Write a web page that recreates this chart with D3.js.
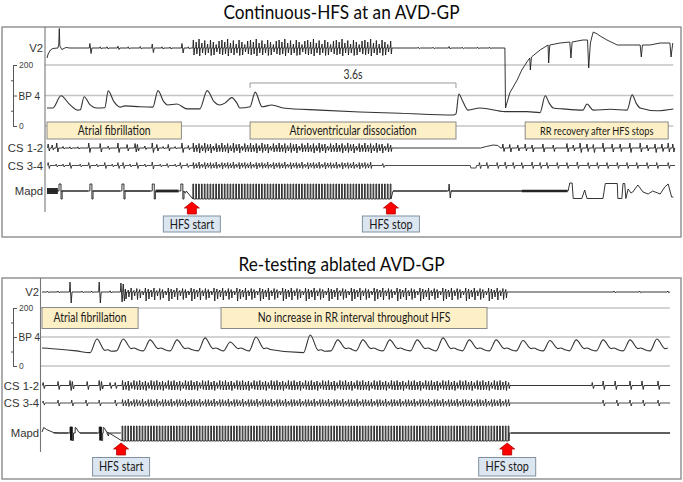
<!DOCTYPE html>
<html><head><meta charset="utf-8">
<script src="https://cdn.jsdelivr.net/npm/d3@7"></script>
<style>body{margin:0;background:#fff;}svg{display:block;}</style>
</head><body>
<svg id="c" width="683" height="482"></svg>
<script>
// ================= DATA =================
const titles = ["Continuous-HFS at an AVD-GP", "Re-testing ablated AVD-GP"];
const channelNames = ["V2", "BP 4", "CS 1-2", "CS 3-4", "Mapd"];
const bpGridValues = [0, 100, 200];
const bpMinorTicks = [50, 150];
const bpTickLabels = [[200, "200"], [0, "0"]];
const timeDomain = [0, 11];          // seconds
const hfsPeriod = 0.05;              // 20 Hz stimulation
const hfsLabels = ["HFS start", "HFS stop"];

// ---- Panel 1 : continuous HFS ----
const p1Hfs = [2.55, 6.03];
const p1Cs34HfsStop = 5.67;
const p1Interval = [3.55, 7.15];
const p1IntervalLabel = "3.6s";
const p1Boxes = [[0.0, 2.35, "Atrial fibrillation"], [3.55, 7.15, "Atrioventricular dissociation"], [8.36, 10.86, "RR recovery after HFS stops"]];
const p1BP = [[0,59],[0.10,59],[0.245,99],[0.40,70],[0.54,52],[0.58,53],[0.65,96],[0.75,70],[0.87,59],[1.01,60],[1.07,115],[1.17,80],[1.28,62],[1.36,66],[1.63,63],[1.85,62],[1.94,116],[2.04,80],[2.11,69],[2.27,72],[2.45,56],[2.67,56],[2.80,116],[2.92,80],[3.02,69],[3.11,75],[3.23,93],[3.32,75],[3.37,59],[3.55,63],[3.64,111],[3.76,63],[3.93,69],[4.13,59],[4.77,52],[5.47,46],[6.17,42],[7.10,36],[7.15,40],[7.20,105],[7.27,80],[7.36,52],[7.57,59],[8.01,47],[8.39,47],[8.62,44],[8.71,99],[8.78,75],[8.85,59],[9.02,56],[9.37,52],[9.44,72],[9.55,52],[9.85,55],[10.14,52],[10.23,102],[10.30,75],[10.37,59],[10.66,50],[10.95,56]];
const p1V2Start = [[0,-1.0],[0.02,-0.6],[0.06,-0.2],[0.1,-0.05],[0.19,0],[0.205,0.3],[0.215,1.95],[0.225,0.2],[0.26,-0.15],[0.33,0.05],[0.4,0]];
const p1V2Spikes = [[0.75,0.45,0.55],[0.93,0.12,0.1],[1.05,0.12,0.1],[1.24,0.18,0.15],[1.42,0.12,0.1],[1.63,0.15,0.1],[1.84,0.4,0.45],[2.01,0.12,0.1],[2.15,0.1,0.1],[2.36,0.45,0.5],[2.47,0.12,0.1],[6.49,0.08,0.08],[6.75,0.08,0.08],[7.03,0.15,0.1],[7.26,0.08,0.08],[7.53,0.08,0.08],[7.74,0.08,0.08]];
const p1V2HfsAmp = [[0.8,0.7],[0.6,0.6],[0.9,0.8],[0.5,0.5],[0.75,0.7],[0.4,0.5],[0.8,0.75],[0.6,0.7],[0.35,0.4],[0.7,0.6]];
const p1V2Recovery = [[8.005,0],[8.016,-6.0],[8.09,-4.5],[8.22,-3.2],[8.30,-2.2],[8.39,-1.4],[8.44,-1.0],[8.45,-2.2],[8.47,-0.9],[8.62,-0.2],[8.76,0.3],[8.77,-1.5],[8.79,0.3],[8.97,0.5],[9.14,0.6],[9.16,-1.0],[9.18,0.6],[9.37,0.8],[9.45,0.8],[9.47,-2.0],[9.50,0.5],[9.53,1.2],[9.55,1.6],[9.62,1.4],[9.67,1.2],[9.79,0.8],[9.97,0.3],[10.19,0.3],[10.37,0.3],[10.39,-0.9],[10.41,0.3],[10.54,0.3],[10.72,0.5],[10.89,0.5],[10.91,-0.9],[10.94,0.5]];
const p1Cs12Spikes = [[0.02,0.4,0.3],[0.09,0.3,0.2],[0.17,0.5,0.4],[0.28,0.15,0.1],[0.40,0.12,0.1],[0.54,0.12,0.1],[0.73,0.5,0.45],[0.93,0.45,0.4],[1.07,0.2,0.15],[1.24,0.5,0.45],[1.40,0.35,0.3],[1.54,0.45,0.4],[1.58,0.35,0.3],[1.71,0.2,0.15],[1.84,0.5,0.45],[1.92,0.35,0.3],[2.03,0.15,0.1],[2.12,0.35,0.3],[2.24,0.15,0.1],[2.36,0.5,0.45],[2.47,0.25,0.2],
  [7.97,0.4,0.35],[8.09,0.35,0.4],[8.23,0.3,0.3],[8.36,0.4,0.3],[8.48,0.3,0.4],[8.67,0.4,0.4],[8.85,0.3,0.35],[9.09,0.45,0.4],[9.20,0.3,0.3],[9.32,0.5,0.45],[9.44,0.4,0.35],[9.55,0.35,0.45],[9.72,0.5,0.4],[9.88,0.4,0.4],[10.02,0.4,0.35],[10.19,0.5,0.45],[10.37,0.5,0.4],[10.49,0.3,0.3],[10.63,0.4,0.45],[10.75,0.4,0.35],[10.86,0.5,0.4],[10.94,0.4,0.4]];
const p1Cs12Bump = [[7.58,0],[7.68,0.15],[7.8,0.3],[7.88,0.25],[7.92,0.05],[7.94,0]];
const p1Cs12HfsAmp = [[0.5,0.4],[0.3,0.35],[0.45,0.5],[0.25,0.3],[0.5,0.45],[0.35,0.3],[0.4,0.5],[0.2,0.25],[0.45,0.4],[0.3,0.35]];
const p1Cs34Spikes = [[0.02,0.3,0.3],[0.16,0.15,0.15],[0.28,0.15,0.15],[0.40,0.3,0.3],[0.58,0.15,0.15],[0.73,0.3,0.3],[0.87,0.15,0.15],[1.01,0.3,0.3],[1.14,0.15,0.15],[1.24,0.3,0.3],[1.33,0.3,0.3],[1.45,0.15,0.15],[1.57,0.3,0.3],[1.71,0.15,0.15],[1.84,0.35,0.35],[1.98,0.15,0.15],[2.10,0.2,0.2],[2.24,0.15,0.15],[2.33,0.3,0.3],[2.45,0.2,0.2],[5.87,0.2,0.2],
  [7.56,0.3,0.3],[7.69,0.3,0.3],[7.87,0.3,0.3],[8.01,0.35,0.3],[8.15,0.3,0.3],[8.30,0.3,0.3],[8.48,0.35,0.3],[8.62,0.3,0.3],[8.74,0.3,0.3],[8.92,0.3,0.3],[9.09,0.3,0.3],[9.27,0.35,0.3],[9.46,0.3,0.3],[9.62,0.3,0.3],[9.79,0.3,0.3],[9.97,0.3,0.3],[10.14,0.3,0.3],[10.31,0.3,0.3],[10.49,0.3,0.3],[10.66,0.3,0.3],[10.86,0.3,0.3]];
const p1Cs34Step = [[7.40,0],[7.41,-0.25],[7.50,-0.25],[7.51,0]];
const p1Cs34HfsAmp = [[0.3,0.3],[0.2,0.25],[0.35,0.3],[0.15,0.2],[0.3,0.35],[0.25,0.2]];
const p1MapdPulses = [0.21, 0.75, 1.31, 1.84, 2.34];
const p1MapdNoise = [[0.0,0.19,0.3],[0.24,0.72,0.04],[0.79,1.28,0.04],[1.35,1.81,0.06],[1.9,2.3,0.14],[6.05,7.0,0.03],[7.06,8.3,0.06],[8.3,9.1,0.13]];
const p1MapdSpikes = [[2.40,-0.1,0.2],[7.03,0.7,0.7]];
const p1MapdTail = [[9.11,0],[9.14,0.8],[9.18,0.8],[9.20,-0.75],[9.35,-0.75],[9.40,0.1],[9.44,-0.75],[9.72,-0.75],[9.76,0.75],[9.97,0.75],[9.98,-0.75],[10.05,-0.75],[10.07,0.75],[10.10,0.75],[10.12,-0.75],[10.16,0.2],[10.21,-0.2],[10.24,-0.1],[10.33,0.6],[10.42,-0.1],[10.51,-0.3],[10.59,0.0],[10.72,-0.3],[10.80,0.4],[10.86,0.7],[10.92,-0.6],[10.95,-0.6]];

// ---- Panel 2 : re-testing ablated GP ----
const p2Hfs = [1.40, 8.15];
const p2Boxes = [[0.0, 1.68, "Atrial fibrillation"], [3.13, 7.78, "No increase in RR interval throughout HFS"]];
const p2BPStart = [[0,62],[0.3,58],[0.6,52]];
const p2BPBeats = [[0.96,93,46],[1.42,93,52],[1.89,90,52],[2.36,90,52],[2.85,97,52],[3.29,83,52],[3.74,100,52],[4.69,107,46],[5.17,90,52],[5.61,90,52],[6.08,90,52],[6.56,90,52],[7.01,97,52],[7.47,90,52],[7.94,90,52],[8.41,88,52],[8.88,88,52],[9.34,90,52],[9.81,90,52],[10.28,90,52],[10.75,93,52]];
const p2V2Spikes = [[0.10,0.08,0.08],[0.28,0.1,0.08],[0.49,1.0,1.1],[0.70,0.1,0.08],[0.87,0.1,0.08],[1.00,1.0,1.1],[1.19,0.12,0.1],[1.38,0.9,1.0],[1.42,0.8,0.9],[10.0,0.1,0.08],[10.45,0.1,0.08],[10.94,0.1,0.08]];
const p2V2HfsAmp = [[0.3,0.7],[0.2,0.5],[0.4,0.8],[0.15,0.4],[0.35,0.75],[0.25,0.6],[0.1,0.3],[0.4,0.9]];
const p2Cs12Spikes = [[0.02,0.3,0.3],[0.28,0.4,0.4],[0.49,0.5,0.5],[0.53,0.4,0.35],[0.79,0.4,0.4],[1.00,0.5,0.5],[1.04,0.4,0.35],[1.19,0.3,0.3],[1.28,0.3,0.3],[9.62,0.3,0.3],[9.81,0.45,0.4],[10.02,0.45,0.4],[10.28,0.45,0.4],[10.49,0.45,0.4],[10.77,0.45,0.4]];
const p2Cs12HfsAmp = [[0.5,0.45],[0.35,0.4],[0.45,0.5],[0.3,0.3],[0.5,0.4],[0.4,0.45]];
const p2Cs34Spikes = [[0.02,0.2,0.2],[0.28,0.3,0.3],[0.52,0.3,0.3],[0.77,0.3,0.3],[1.00,0.3,0.3],[1.28,0.3,0.3],[9.81,0.3,0.3],[10.05,0.3,0.3],[10.28,0.3,0.3],[10.51,0.3,0.3],[10.77,0.3,0.3]];
const p2Cs34HfsAmp = [[0.35,0.3],[0.25,0.3],[0.4,0.35],[0.2,0.25],[0.35,0.35]];
const p2MapdStart = [[0,0.1],[0.03,0.55],[0.08,0.35],[0.2,0.05],[0.3,0]];
const p2MapdBlocks = [0.49, 1.00];
const p2MapdAfterPulses = [0.58, 1.07];
const p2MapdSpikes = [[1.14,-0.05,0.3]];
const p2MapdNoise = [[0.2,0.46,0.04],[0.66,0.97,0.05],[1.18,1.38,0.05],[8.2,10.98,0.05]];

// ================= LAYOUT / STYLE =================
const FONT_C = "Lato, 'Open Sans', sans-serif";
const FONT_A = "'Liberation Sans', Arial, sans-serif";
const layout = [
  {frame:[2,27,681,237], titleY:19, titleW:236, axisX:45, x0:47, axisBottom:212, v2:48, bp:[126,65], cs12:148, cs34:165.5, mapd:191, bracketX:13, boxY:122, boxH:17, arrowY:202, hfsBoxY:216, hfsBoxH:16, labelRight:43, tEnd:10.95},
  {frame:[2,278,681,479], titleY:271, titleW:206, axisX:40.5, x0:42, axisBottom:452, v2:292, bp:[366,308], cs12:385.5, cs34:403, mapd:433, bracketX:13, boxY:307.5, boxH:21, arrowY:443, hfsBoxY:457.5, hfsBoxH:18.5, labelRight:39, tEnd:10.98}
];
const PX_PER_S = 57.2;

// ================= HELPERS =================
function spike(s){ const [t,u,d]=s; return [[t-0.01,0],[t,u],[t+0.02,-d],[t+0.035,0]]; }
function hfsTrain(t0,t1,amps){ const out=[]; let k=0; for(let t=t0;t<=t1+1e-9;t+=hfsPeriod,k++){const a=amps[k%amps.length]; out.push([[t,0],[t+0.008,a[0]],[t+0.02,-a[1]],[t+0.03,0]]);} return out; }
function comb(t0,t1,top,bottom){ const out=[]; for(let t=t0;t<=t1+1e-9;t+=hfsPeriod){ out.push([[t,bottom],[t,top],[t+0.013,top],[t+0.013,bottom]]);} return out; }
function pulse(t,top,bottom,w){ return [[t,0],[t,top],[t+w,top],[t+w,bottom],[t+w+0.02,bottom],[t+w+0.02,0]]; }
function assemble(pieces){ pieces.sort((a,b)=>a[0][0]-b[0][0]); return pieces.flat(); }

const svg = d3.select("#c");
svg.append("rect").attr("width",683).attr("height",482).attr("fill","#fff");

// Calibri-like narrow text: Lato glyphs squeezed horizontally
const probe = svg.append("text").attr("font-family",FONT_C).attr("font-size",12.5).text("Atrioventricular dissociation");
const SQUEEZE = 127 / probe.node().getComputedTextLength(); probe.remove();
function cText(sel, size, boxW){
  sel.attr("font-family",FONT_C).attr("font-size",size);
  let nat = sel.node().getComputedTextLength();
  if (boxW && nat > boxW - 6) { size = size * (boxW - 6) / nat; sel.attr("font-size", size.toFixed(2)); nat = sel.node().getComputedTextLength(); }
  const w = Math.min(nat * SQUEEZE, boxW ? boxW - 16 : Infinity);
  sel.attr("textLength",w.toFixed(1)).attr("lengthAdjust","spacingAndGlyphs");
  return sel;
}

function drawPanel(idx, cfg){
  const L = layout[idx];
  const g = svg.append("g");
  const xs = d3.scaleLinear().domain(timeDomain).range([L.x0, L.x0 + PX_PER_S*(timeDomain[1]-timeDomain[0])]);
  const bpY = d3.scaleLinear().domain([0,200]).range(L.bp);
  const ch = base => d3.scaleLinear().domain([-1,1]).range([base+10, base-10]);
  const yV2 = ch(L.v2), yC12 = ch(L.cs12), yC34 = ch(L.cs34), yM = ch(L.mapd);

  // frame
  const [fx0,fy0,fx1,fy1] = L.frame;
  g.append("rect").attr("x",fx0).attr("y",fy0).attr("width",fx1-fx0).attr("height",fy1-fy0)
    .attr("fill","none").attr("stroke","#8c8c8c").attr("stroke-width",1.4);
  // title
  const tt = g.append("text").attr("x",341.5).attr("y",L.titleY).attr("text-anchor","middle").attr("fill","#0a0a0a").text(titles[idx]);
  tt.attr("font-family",FONT_C).attr("font-size",20);
  tt.attr("textLength",L.titleW).attr("lengthAdjust","spacingAndGlyphs");

  // gridlines
  g.selectAll(".grid").data(bpGridValues).join("line")
    .attr("x1",L.axisX).attr("x2",xs(L.tEnd)).attr("y1",d=>bpY(d)).attr("y2",d=>bpY(d))
    .attr("stroke","#c4c4c4").attr("stroke-width",1.6);
  // left vertical line
  g.append("line").attr("x1",L.axisX).attr("x2",L.axisX).attr("y1",fy0).attr("y2",L.axisBottom)
    .attr("stroke","#777").attr("stroke-width",1.1);

  // BP scale bracket
  const ax = g.append("g").attr("transform",`translate(${L.bracketX},0)`)
    .call(d3.axisRight(bpY).tickValues(bpGridValues).tickSize(4).tickSizeOuter(0).tickFormat(""));
  ax.select(".domain").attr("stroke","#555");
  ax.selectAll(".tick line").attr("stroke","#555");
  const ax2 = g.append("g").attr("transform",`translate(${L.bracketX},0)`)
    .call(d3.axisLeft(bpY).tickValues(bpMinorTicks).tickSize(2).tickSizeOuter(0).tickFormat(""));
  ax2.select(".domain").remove(); ax2.selectAll(".tick line").attr("stroke","#555");
  g.selectAll(".bpl").data(bpTickLabels).join("text")
    .attr("x",L.bracketX+6).attr("y",d=>bpY(d[0])+3).attr("font-family",FONT_A).attr("font-size",8.5)
    .attr("fill","#444").text(d=>d[1]);
  g.append("text").attr("x",L.bracketX+5.5).attr("y",bpY(100)+4).attr("font-family",FONT_A).attr("font-size",10)
    .attr("fill","#333").text(channelNames[1]);

  // channel labels
  [[channelNames[0],L.v2],[channelNames[2],L.cs12],[channelNames[3],L.cs34],[channelNames[4],L.mapd]].forEach(([n,y])=>{
    g.append("text").attr("x",L.labelRight).attr("y",y+4).attr("text-anchor","end")
      .attr("font-family",FONT_A).attr("font-size",11.3).attr("fill","#333").text(n);
  });

  // yellow annotation boxes
  const bx = g.selectAll(".box").data(cfg.boxes).join("g");
  bx.append("rect").attr("x",d=>xs(d[0])).attr("y",L.boxY).attr("width",d=>xs(d[1])-xs(d[0])).attr("height",L.boxH)
    .attr("fill","#fdf0c6").attr("stroke","#8a8a8a").attr("stroke-width",1);
  bx.append("text").attr("x",d=>(xs(d[0])+xs(d[1]))/2).attr("y",L.boxY+L.boxH/2+4.3).attr("text-anchor","middle")
    .attr("fill","#1a1a1a").text(d=>d[2]).each(function(d){ cText(d3.select(this), 12.5, xs(d[1])-xs(d[0])); });

  const line = (ys, curve) => d3.line().x(d=>xs(d[0])).y(d=>ys(d[1])).curve(curve||d3.curveLinear);
  const trace = (pts, ys, w, col, curve) => g.append("path").attr("d", line(ys, curve)(pts)).attr("fill","none")
      .attr("stroke",col||"#1e1e1e").attr("stroke-width",w||1).attr("stroke-linejoin","round");
  const noise = (segs, ys) => g.selectAll(null).data(segs).join("line")
      .attr("x1",d=>xs(d[0])).attr("x2",d=>xs(d[1])).attr("y1",ys(0)).attr("y2",ys(0))
      .attr("stroke","#2a2a2a").attr("stroke-width",d=>Math.max(1, d[2]*20));

  // BP
  trace(cfg.bp.filter(d=>d[0]<=L.tEnd), d=>bpY(d), 1.1, "#333", d3.curveMonotoneX);
  // channels
  trace(cfg.v2, yV2, 0.9);
  trace(cfg.cs12, yC12, 0.9);
  trace(cfg.cs34, yC34, 0.8);
  noise(cfg.mapdNoise, yM);
  trace(cfg.mapd, yM, 0.9);
  if (cfg.mapdBlocks) g.selectAll(null).data(cfg.mapdBlocks).join("rect")
      .attr("x",d=>xs(d)).attr("width",d=>xs(d+0.04)-xs(d)).attr("y",yM(0.6)).attr("height",yM(-0.75)-yM(0.6)).attr("fill","#111");

  // interval bracket
  if (cfg.interval){
    const [a,b] = cfg.interval, yb = bpY(141);
    g.append("path").attr("d",`M${xs(a)},${yb+5}V${yb}H${xs(b)}V${yb+5}`).attr("fill","none").attr("stroke","#9a9a9a").attr("stroke-width",1);
    cText(g.append("text").attr("x",(xs(a)+xs(b))/2).attr("y",yb-3.5).attr("text-anchor","middle")
      .attr("fill","#333").text(cfg.intervalLabel), 12.5);
  }

  // HFS arrows and labels
  const hx = [[cfg.hfs[0], hfsLabels[0]], [cfg.hfs[1], hfsLabels[1]]];
  const hg = g.selectAll(".hfs").data(hx).join("g").attr("transform",d=>`translate(${xs(d[0])-1},0)`);
  const ay = L.arrowY;
  hg.append("path").attr("d",`M0,${ay}L7.5,${ay+6}L4.5,${ay+6}L4.5,${ay+12}L-4.5,${ay+12}L-4.5,${ay+6}L-7.5,${ay+6}Z`)
    .attr("fill","#ff0000").attr("stroke","#b00000").attr("stroke-width",0.8);
  hg.append("rect").attr("x",-28.5).attr("y",L.hfsBoxY).attr("width",57).attr("height",L.hfsBoxH)
    .attr("fill","#dce6f1").attr("stroke","#8090a0").attr("stroke-width",1);
  hg.append("text").attr("x",0).attr("y",L.hfsBoxY+L.hfsBoxH/2+4.5).attr("text-anchor","middle")
    .attr("fill","#1a1a1a").text(d=>d[1]).each(function(){ cText(d3.select(this), 13, 62); });
}

// ---------- build panel 1 ----------
const p1 = {
  boxes: p1Boxes, hfs: p1Hfs, interval: p1Interval, intervalLabel: p1IntervalLabel,
  bp: p1BP,
  v2: assemble([p1V2Start, ...p1V2Spikes.map(spike), ...hfsTrain(p1Hfs[0], p1Hfs[1], p1V2HfsAmp), p1V2Recovery]),
  cs12: assemble([...p1Cs12Spikes.map(spike), p1Cs12Bump, ...hfsTrain(p1Hfs[0], p1Hfs[1], p1Cs12HfsAmp), [[10.98,0]]]),
  cs34: assemble([...p1Cs34Spikes.map(spike), p1Cs34Step, ...hfsTrain(p1Hfs[0], p1Cs34HfsStop, p1Cs34HfsAmp), [[10.98,0]]]),
  mapd: assemble([[[0,0]], ...p1MapdPulses.map(t=>pulse(t,0.7,-0.8,0.035)), ...p1MapdSpikes.map(spike), ...comb(p1Hfs[0], p1Hfs[1], 0.7, -0.8), [[p1Hfs[1]+0.02,0]], p1MapdTail]),
  mapdNoise: p1MapdNoise
};
// ---------- build panel 2 ----------
function bpFromBeats(start, beats){
  const pts = start.slice();
  beats.forEach(([p,s,d])=>{ pts.push([p-0.12,d],[p,s],[p+0.14,d+8],[p+0.19,d+10],[p+0.25,d+5]); });
  return pts;
}
const p2 = {
  boxes: p2Boxes, hfs: p2Hfs,
  bp: bpFromBeats(p2BPStart, p2BPBeats),
  v2: assemble([[[0,0]], ...p2V2Spikes.map(spike), ...hfsTrain(p2Hfs[0]+0.05, p2Hfs[1]-0.02, p2V2HfsAmp), [[10.98,0]]]),
  cs12: assemble([...p2Cs12Spikes.map(spike), ...hfsTrain(p2Hfs[0], p2Hfs[1], p2Cs12HfsAmp), [[10.98,0]]]),
  cs34: assemble([...p2Cs34Spikes.map(spike), ...hfsTrain(p2Hfs[0], p2Hfs[1], p2Cs34HfsAmp), [[10.98,0]]]),
  mapd: assemble([p2MapdStart, ...p2MapdBlocks.map(t=>pulse(t,0.6,-0.75,0.04)),
    ...p2MapdAfterPulses.map(t=>[[t,0],[t,0.55],[t+0.02,0.5],[t+0.06,0.1],[t+0.1,0]]),
    ...p2MapdSpikes.map(spike), ...comb(p2Hfs[0], p2Hfs[1], 0.7, -0.8), [[p2Hfs[1]+0.02,0],[10.98,0]]]),
  mapdNoise: p2MapdNoise,
  mapdBlocks: p2MapdBlocks
};
drawPanel(0, p1);
drawPanel(1, p2);
</script>
</body></html>
